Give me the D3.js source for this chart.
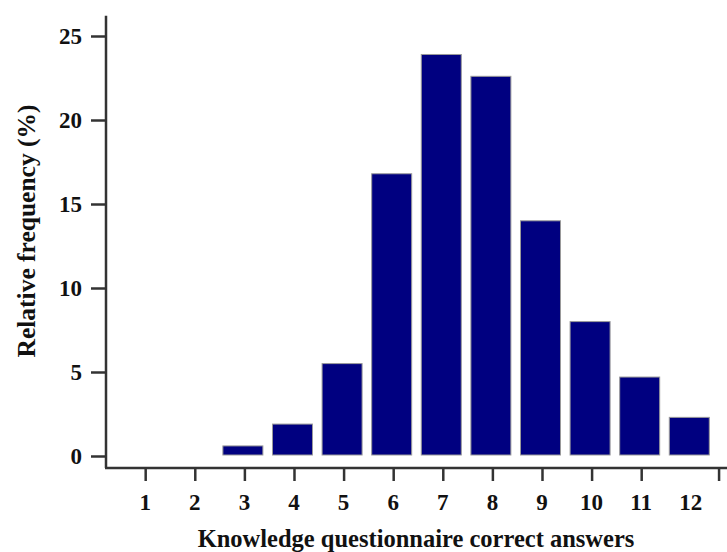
<!DOCTYPE html>
<html lang="en">
<head>
<meta charset="UTF-8">
<title>Knowledge questionnaire histogram</title>
<script src="https://d3js.org/d3.v7.min.js"></script>
<style>
  body { margin: 0; background: #fff; }
  text { font-family: "Liberation Serif", "Times New Roman", serif; font-weight: bold; fill: #111; }
</style>
</head>
<body>
<div id="chart"></div>
<script>
// data
const answers = [1, 2, 3, 4, 5, 6, 7, 8, 9, 10, 11, 12];
const freq = [0, 0, 0.6, 1.9, 5.5, 16.8, 23.9, 22.6, 14.0, 8.0, 4.7, 2.3];
const yTicks = [0, 5, 10, 15, 20, 25];

const W = 727, H = 552;
const left = 106, bottom = 468, zeroY = 456;

const svg = d3.select("#chart").append("svg")
    .attr("width", W).attr("height", H);

// scales
const x = d3.scaleLinear().domain([0.21, 12.73]).range([left, W]);
const y = d3.scaleLinear().domain([0, 26.2]).range([zeroY, zeroY - 26.2 * 16.8]);
const barW = 40;

// bars (they sit a hair left of the ticks in the original)
svg.selectAll("rect.bar")
    .data(answers.map((a, i) => ({a: a, v: freq[i]})).filter(d => d.v > 0))
    .enter().append("rect")
    .attr("class", "bar")
    .attr("x", d => x(d.a) - barW / 2 - 1.5)
    .attr("y", d => y(d.v))
    .attr("width", barW)
    .attr("height", d => y(0) - 1 - y(d.v))
    .attr("fill", "#000080")
    .attr("stroke", "#9a9a9a")
    .attr("stroke-width", 1);

// y axis
const yAxis = svg.append("g")
    .attr("transform", `translate(${left},0)`)
    .call(d3.axisLeft(y).tickValues(yTicks).tickSize(15).tickPadding(9));
yAxis.select(".domain").attr("d", `M0,${y(26.2)}V${bottom}`);

// x axis, the last lone tick sits near the end of the line as in the original
const xAxis = svg.append("g")
    .attr("transform", `translate(0,${bottom})`)
    .call(d3.axisBottom(x).tickValues(answers.slice(0, 11).concat([12.56]))
        .tickSize(13).tickPadding(8).tickFormat(""));
xAxis.select(".domain").attr("d", `M${left - 1},0H${W}`);

svg.selectAll(".domain, .tick line")
    .attr("stroke", "#333").attr("stroke-width", 2.5);
svg.selectAll(".tick text")
    .attr("font-size", 23).attr("font-family", null).attr("fill", "#111");

// x tick labels (under each bar)
svg.append("g").selectAll("text")
    .data(answers).enter().append("text")
    .attr("x", d => x(d))
    .attr("y", 510)
    .attr("text-anchor", "middle")
    .attr("font-size", 23)
    .text(d => d);

// titles
svg.append("text")
    .attr("x", 416).attr("y", 547)
    .attr("text-anchor", "middle")
    .attr("font-size", 24.5)
    .text("Knowledge questionnaire correct answers");

svg.append("text")
    .attr("transform", "translate(35,231) rotate(-90)")
    .attr("text-anchor", "middle")
    .attr("font-size", 25.5)
    .text("Relative frequency (%)");
</script>
</body>
</html>
